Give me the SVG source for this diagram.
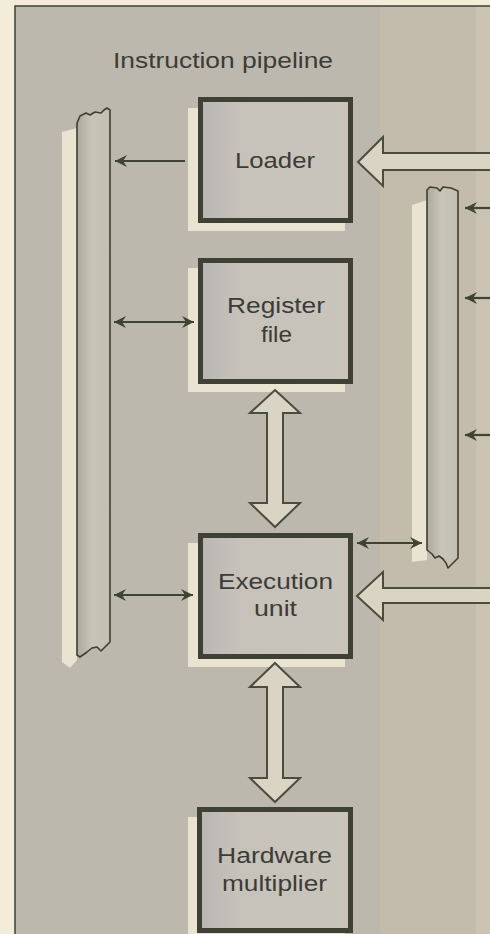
<svg xmlns="http://www.w3.org/2000/svg" width="490" height="934" viewBox="0 0 490 934">
<defs>
<style>
.lbl{font-family:"Liberation Sans",Arial,sans-serif;fill:#3b3c37;font-size:22px}
.box{fill:url(#boxg);stroke:#3e4134;stroke-width:5}
.hl{fill:#e9e3d1}
.bus{fill:url(#busg);stroke:#3d3f33;stroke-width:1.6;stroke-linejoin:round}
.ln{stroke:#3e4334;stroke-width:2.2;fill:none}
.hollow{fill:#dad4c4;stroke:#4a4c3e;stroke-width:2;stroke-linejoin:miter}
</style>
<linearGradient id="boxg" x1="0" y1="0" x2="1" y2="0">
<stop offset="0" stop-color="#b9b5b3"/>
<stop offset="0.25" stop-color="#c6c2ba"/>
<stop offset="1" stop-color="#c9c5bb"/>
</linearGradient>
<linearGradient id="busg" x1="0" y1="0" x2="1" y2="0">
<stop offset="0" stop-color="#aea99d"/>
<stop offset="0.45" stop-color="#c9c4b8"/>
<stop offset="1" stop-color="#c4bfb3"/>
</linearGradient>
<marker id="ah" viewBox="-13 -7 14 14" markerWidth="14" markerHeight="14" refX="0" refY="0" orient="auto-start-reverse" markerUnits="userSpaceOnUse">
<path d="M0,0 L-12,-6 L-8,0 L-12,6 Z" fill="#3e4334"/>
</marker>
</defs>

<!-- page and panel -->
<rect x="0" y="0" width="490" height="934" fill="#f3ecd8"/>
<rect x="15" y="6" width="475" height="928" fill="#bdb8ad"/>
<rect x="380" y="7" width="110" height="927" fill="#c3bbac"/>
<rect x="476" y="7" width="14" height="927" fill="#cac2b3"/>
<path d="M15,934 L15,6 L490,6" fill="none" stroke="#3d3f36" stroke-width="1.5"/>

<g id="title">
<text class="lbl" x="113" y="68" font-size="21" textLength="220" lengthAdjust="spacingAndGlyphs">Instruction pipeline</text>
</g>

<!-- left bus -->
<g id="bus-left">
<path class="hl" d="M62,132 L77,128 L77,660 L70,668 L62,662 Z"/>
<path class="bus" d="M77,123 L80,116 L86,113 L90,115 L95,112 L101,113 L104,110 L107,108 L110,110 L110,642 L101,651 L97,647 L92,648 L87,652 L80,657 L77,655 Z"/>
</g>

<!-- right bus -->
<g id="bus-right">
<path class="hl" d="M412,205 L427,200 L427,560 L412,562 Z"/>
<path class="bus" d="M427,190 L430,187 L437,188 L440,191 L443,187 L451,188 L458,191 L458,558 L452,564 L448,568 L446,563 L443,559 L439,556 L435,558 L432,554 L427,550 Z"/>
</g>

<!-- nodes -->
<g id="node-loader">
<rect class="hl" x="188" y="108" width="157" height="123"/>
<rect class="box" x="200.5" y="99.5" width="150" height="121"/>
<text class="lbl" x="235" y="168" textLength="80" lengthAdjust="spacingAndGlyphs">Loader</text>
</g>

<g id="node-register">
<rect class="hl" x="188" y="268" width="157" height="124"/>
<rect class="box" x="200.5" y="260.5" width="150" height="121"/>
<text class="lbl" x="227" y="313" textLength="98" lengthAdjust="spacingAndGlyphs">Register</text>
<text class="lbl" x="261" y="342" textLength="31" lengthAdjust="spacingAndGlyphs">file</text>
</g>

<g id="node-execution">
<rect class="hl" x="188" y="543" width="157" height="124"/>
<rect class="box" x="200.5" y="535.5" width="150" height="121"/>
<text class="lbl" x="218" y="589" textLength="115" lengthAdjust="spacingAndGlyphs">Execution</text>
<text class="lbl" x="254" y="616" textLength="43" lengthAdjust="spacingAndGlyphs">unit</text>
</g>

<g id="node-multiplier">
<rect class="hl" x="188" y="817" width="157" height="124"/>
<rect class="box" x="199.5" y="809.5" width="151" height="121"/>
<text class="lbl" x="217" y="863" textLength="115" lengthAdjust="spacingAndGlyphs">Hardware</text>
<text class="lbl" x="222" y="891" textLength="105" lengthAdjust="spacingAndGlyphs">multiplier</text>
</g>

<!-- connectors -->
<g id="connectors">
<!-- hollow wide arrows -->
<path class="hollow" d="M275,390 L300,413 L283,413 L283,503 L300,503 L275,527 L250,503 L267,503 L267,413 L250,413 Z"/>
<path class="hollow" d="M275,663 L300,687 L283,687 L283,778 L300,778 L275,802 L250,778 L267,778 L267,687 L250,687 Z"/>
<path class="hollow" d="M492,153 L383,153 L383,137 L358,162 L383,186 L383,170 L492,170"/>
<path class="hollow" d="M492,588 L383,588 L383,572 L357,596 L383,620 L383,603 L492,603"/>

<!-- thin arrows left bus -->
<line class="ln" x1="185" y1="161" x2="115" y2="161" marker-end="url(#ah)"/>
<line class="ln" x1="114" y1="322" x2="194" y2="322" marker-start="url(#ah)" marker-end="url(#ah)"/>
<line class="ln" x1="114" y1="595" x2="193" y2="595" marker-start="url(#ah)" marker-end="url(#ah)"/>
<!-- execution to right bus -->
<line class="ln" x1="357" y1="543" x2="422" y2="543" marker-start="url(#ah)" marker-end="url(#ah)"/>
<!-- inputs into right bus -->
<line class="ln" x1="490" y1="208" x2="465" y2="208" marker-end="url(#ah)"/>
<line class="ln" x1="490" y1="298" x2="465" y2="298" marker-end="url(#ah)"/>
<line class="ln" x1="490" y1="435" x2="465" y2="435" marker-end="url(#ah)"/>
</g>
</svg>
